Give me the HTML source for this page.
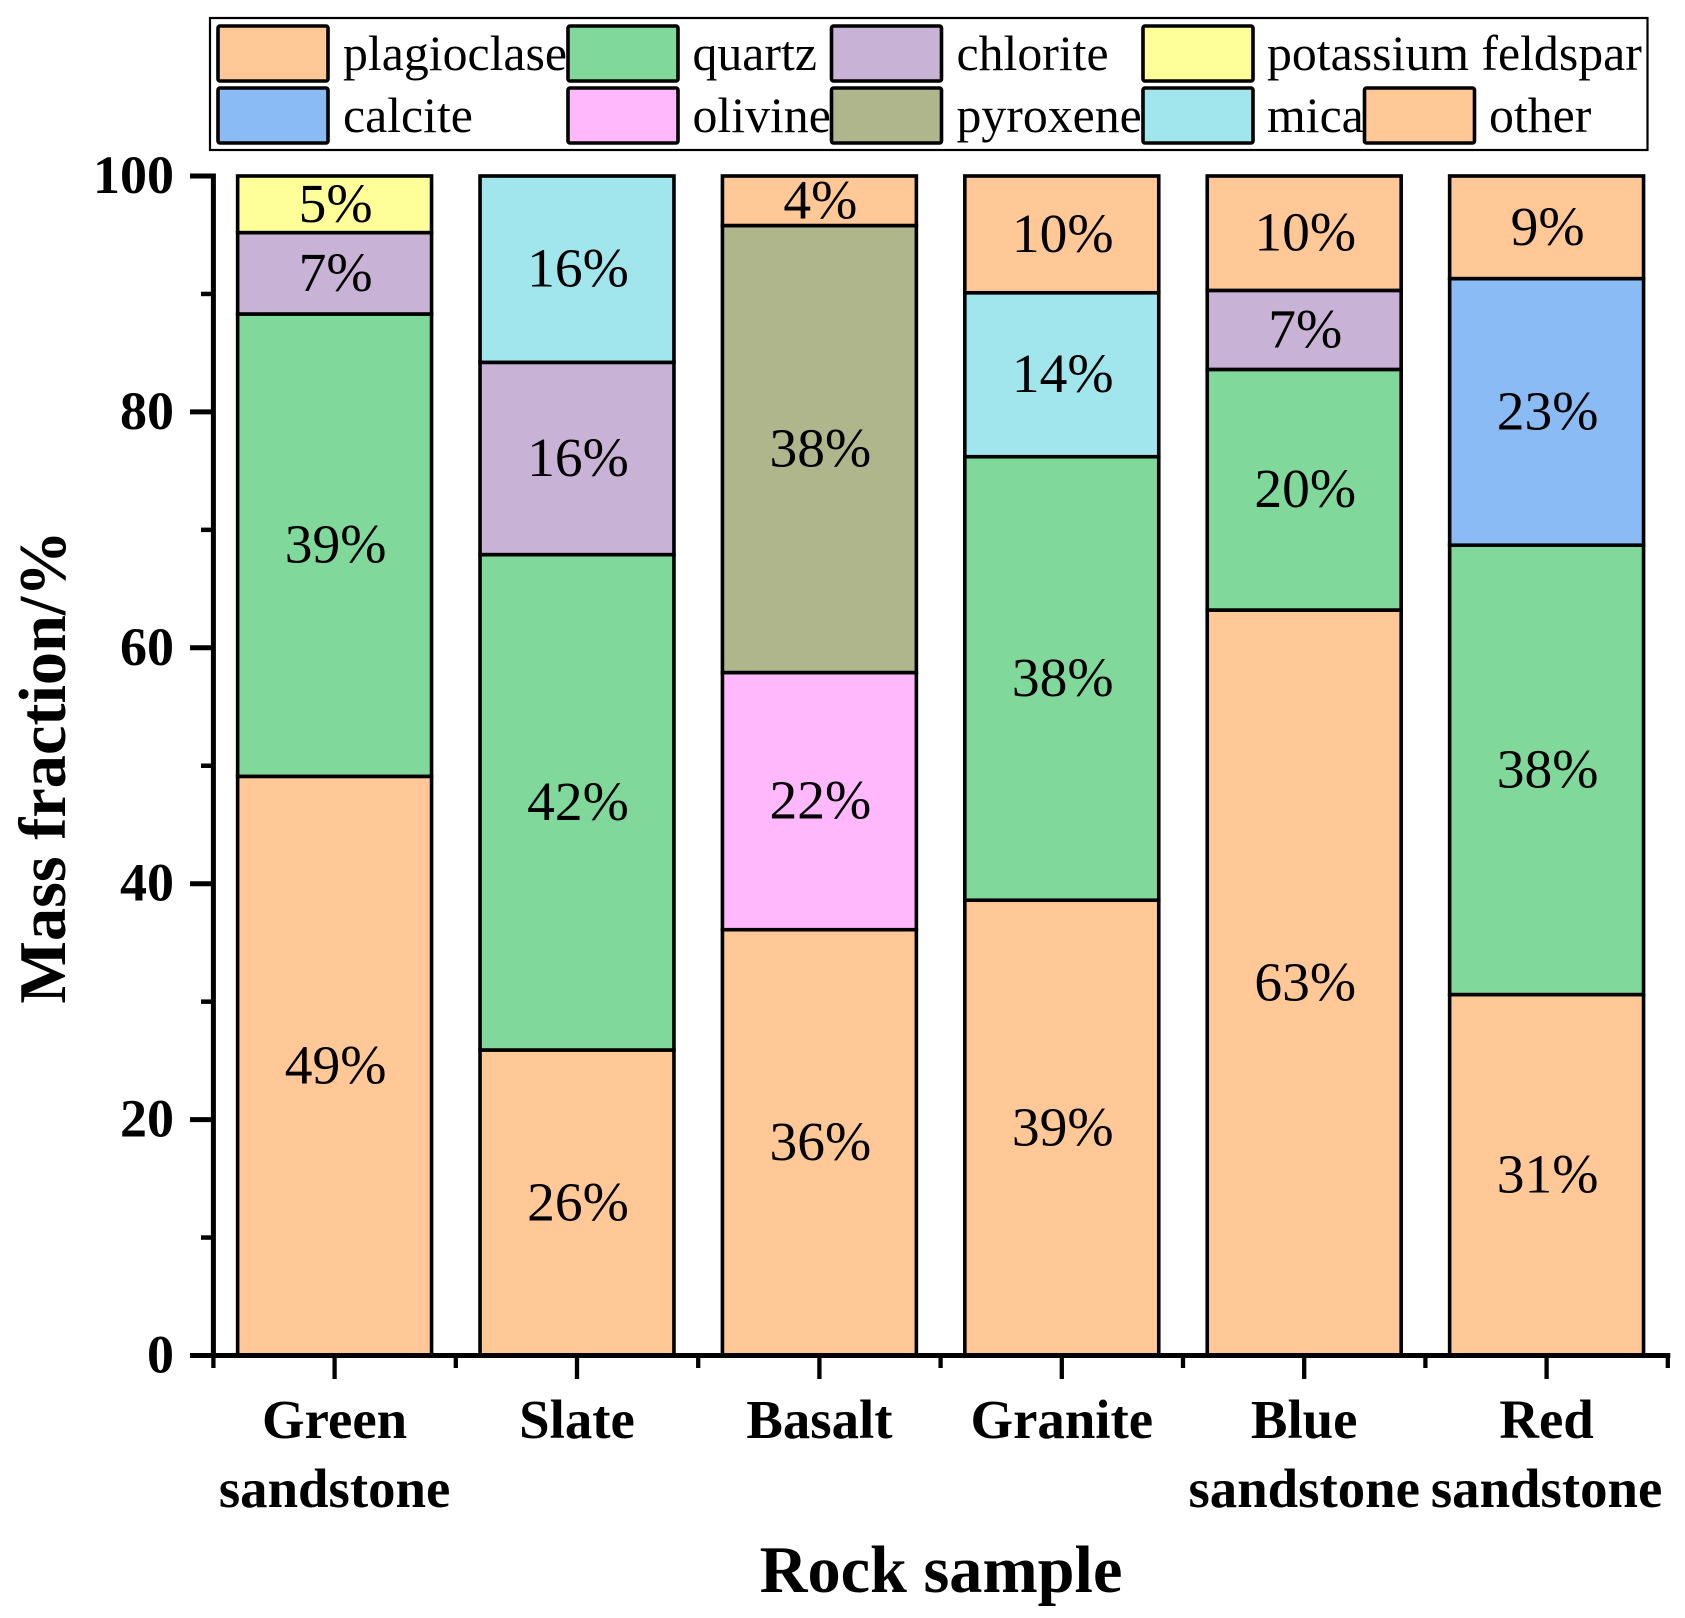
<!DOCTYPE html>
<html lang="en">
<head>
<meta charset="utf-8">
<title>Mass fraction by rock sample</title>
<style>
html,body{margin:0;padding:0;background:#fff;}
svg{display:block;}
text{font-family:"Liberation Serif",serif;fill:#000;}
.leg{font-size:49.8px;}
.val{font-size:55.5px;text-anchor:middle;}
.tick{font-size:54px;font-weight:bold;text-anchor:end;}
.cat{font-size:54.8px;font-weight:bold;text-anchor:middle;}
.title{font-size:66.3px;font-weight:bold;text-anchor:middle;}
</style>
</head>
<body>
<svg id="chart" xmlns="http://www.w3.org/2000/svg" width="1685" height="1618" viewBox="0 0 1685 1618">
  <g id="bars"></g>
  <g id="axes"></g>
  <g id="legend">
    <rect x="210" y="18" width="1437.5" height="132" fill="#fff" stroke="#000" stroke-width="2.2"/>
    <rect x="218" y="26" width="110" height="55" rx="2" fill="#FFC896" stroke="#000" stroke-width="3.6"/>
    <text class="leg" x="343" y="70">plagioclase</text>
    <rect x="568" y="26" width="110" height="55" rx="2" fill="#80D89A" stroke="#000" stroke-width="3.6"/>
    <text class="leg" x="692.5" y="70">quartz</text>
    <rect x="831.5" y="26" width="110" height="55" rx="2" fill="#C8B2D6" stroke="#000" stroke-width="3.6"/>
    <text class="leg" x="956.5" y="70">chlorite</text>
    <rect x="1143" y="26" width="110" height="55" rx="2" fill="#FFFF99" stroke="#000" stroke-width="3.6"/>
    <text class="leg" x="1267" y="70">potassium feldspar</text>
    <rect x="218" y="88" width="110" height="55" rx="2" fill="#8BBBF5" stroke="#000" stroke-width="3.6"/>
    <text class="leg" x="343" y="132">calcite</text>
    <rect x="568" y="88" width="110" height="55" rx="2" fill="#FFB8FB" stroke="#000" stroke-width="3.6"/>
    <text class="leg" x="692.5" y="132">olivine</text>
    <rect x="831.5" y="88" width="110" height="55" rx="2" fill="#B0B68B" stroke="#000" stroke-width="3.6"/>
    <text class="leg" x="956.5" y="132">pyroxene</text>
    <rect x="1143" y="88" width="110" height="55" rx="2" fill="#A1E6EC" stroke="#000" stroke-width="3.6"/>
    <text class="leg" x="1267" y="132">mica</text>
    <rect x="1364.5" y="88" width="110" height="55" rx="2" fill="#FFC896" stroke="#000" stroke-width="3.6"/>
    <text class="leg" x="1489" y="132">other</text>
  </g>
  <text class="title" x="941" y="1592">Rock sample</text>
  <text class="title" transform="translate(65 767) rotate(-90)" x="0" y="0">Mass fraction/%</text>
</svg>
<script>
const categories = ["Green sandstone", "Slate", "Basalt", "Granite", "Blue sandstone", "Red sandstone"];
const plagioclase = [49.1, 25.9, 36.1, 38.6, 63.2, 30.6];
const quartz = [39.2, 42.0, 0, 37.6, 20.4, 38.1];
const olivine = [0, 0, 21.8, 0, 0, 0];
const pyroxene = [0, 0, 37.9, 0, 0, 0];
const calcite = [0, 0, 0, 0, 0, 22.6];
const chlorite = [6.9, 16.3, 0, 0, 6.7, 0];
const mica = [0, 15.8, 0, 13.9, 0, 0];
const potassiumFeldspar = [4.8, 0, 0, 0, 0, 0];
const other = [0, 0, 4.2, 9.9, 9.7, 8.7];
const yMajorTicks = [0, 20, 40, 60, 80, 100];
const yMinorTicks = [10, 30, 50, 70, 90];

const seriesNames = ["plagioclase", "quartz", "olivine", "pyroxene", "calcite", "chlorite", "mica", "potassium-feldspar", "other"];
const seriesValues = [plagioclase, quartz, olivine, pyroxene, calcite, chlorite, mica, potassiumFeldspar, other];
const seriesColors = ["#FFC896", "#80D89A", "#FFB8FB", "#B0B68B", "#8BBBF5", "#C8B2D6", "#A1E6EC", "#FFFF99", "#FFC896"];

const NS = "http://www.w3.org/2000/svg";
const bandStart = 213.4;
const bandWidth = 242.4;
const yBase = 1355.5;
const yUnit = 11.795;
const barRatio = 0.8;

function xBand(i) { return bandStart + i * bandWidth; }
function xCenter(i) { return xBand(i) + bandWidth / 2; }
function yScale(v) { return yBase - v * yUnit; }
function make(tag, parent, attrs) {
  const el = document.createElementNS(NS, tag);
  for (const k in attrs) el.setAttribute(k, attrs[k]);
  parent.appendChild(el);
  return el;
}

const barsGroup = document.getElementById("bars");
categories.forEach(function (cat, i) {
  const w = bandWidth * barRatio;
  const x = xCenter(i) - w / 2;
  let cum = 0;
  seriesValues.forEach(function (vals, s) {
    const v = vals[i];
    if (!v) return;
    const yTop = yScale(cum + v);
    const yBot = yScale(cum);
    const r = make("rect", barsGroup, { x: x, y: yTop, width: w, height: yBot - yTop, fill: seriesColors[s], stroke: "#000", "stroke-width": 3.6 });
    
    
    r.setAttribute('data-series', seriesNames[s]);
    cum += v;
  });
  cum = 0;
  seriesValues.forEach(function (vals, s) {
    const v = vals[i];
    if (!v) return;
    const t = make("text", barsGroup, { class: "val", x: xCenter(i) + 1, y: yScale(cum + v / 2) + 17.5 });
    
    
    t.textContent = Math.round(v) + "%";
    cum += v;
  });
});

const axes = document.getElementById("axes");
const yAxisLine = make("line", axes, { x1: bandStart, x2: bandStart, y1: yScale(100) - 2.5, y2: yBase + 2.5, stroke: "#000", "stroke-width": 5 });


const xAxisLine = make("line", axes, { x1: 190, x2: xBand(categories.length) + 2.5, y1: yBase, y2: yBase, stroke: "#000", "stroke-width": 5 });



yMajorTicks.forEach(function (v) {
  const tk = make("line", axes, { x1: 190, x2: bandStart, y1: yScale(v), y2: yScale(v), stroke: "#000", "stroke-width": 5 });
  
  
  const lb = make("text", axes, { class: "tick", x: 174, y: yScale(v) + 17 });
  
  
  lb.textContent = v;
});
yMinorTicks.forEach(function (v) {
  const tk = make("line", axes, { x1: 201, x2: bandStart, y1: yScale(v), y2: yScale(v), stroke: "#000", "stroke-width": 4.5 });
  
  
});

categories.forEach(function (cat, i) {
  const tk = make("line", axes, { x1: xCenter(i), x2: xCenter(i), y1: yBase, y2: 1379, stroke: "#000", "stroke-width": 4.3 });
  
  
  const words = cat.split(" ");
  words.forEach(function (word, n) {
    const lb = make("text", axes, { class: "cat", x: xCenter(i), y: 1438 + n * 69 });
    
    
    lb.textContent = word;
  });
});
for (let i = 0; i <= categories.length; i++) {
  const tk = make("line", axes, { x1: xBand(i), x2: xBand(i), y1: yBase, y2: 1368, stroke: "#000", "stroke-width": 4.3 });
  
  
}
</script>
</body>
</html>
